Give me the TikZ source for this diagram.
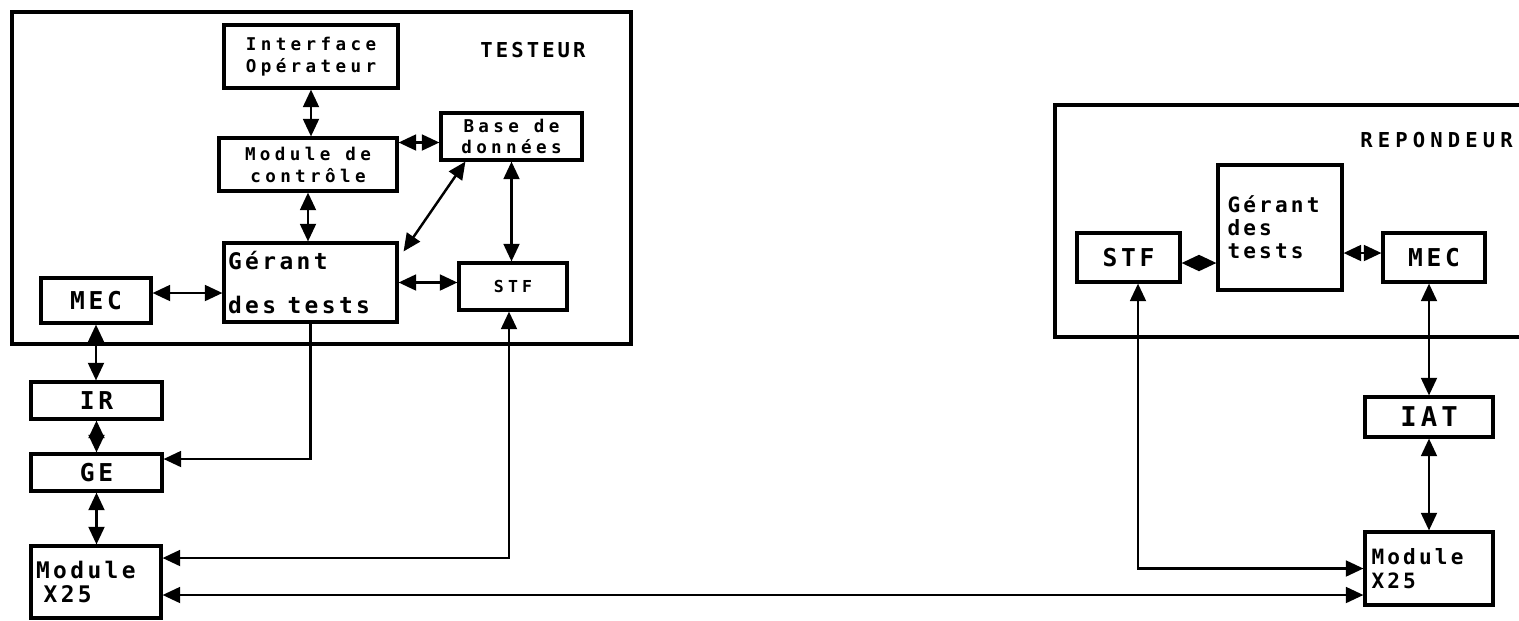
\documentclass[tikz,border=0pt]{standalone}
\usepackage{fontspec}
\newfontfamily\plot[LetterSpace=15]{DejaVu Sans Mono}
\newfontfamily\plotwide[LetterSpace=25]{DejaVu Sans Mono}
\newcommand{\pf}[2]{\plot\bfseries\fontsize{#1}{#2}\selectfont}
\newcommand{\pw}[2]{\plotwide\bfseries\fontsize{#1}{#2}\selectfont}
\usetikzlibrary{arrows.meta,positioning}
\tikzset{
  blk/.style={draw, line width=1.8pt, inner sep=1pt, align=center},
  zone/.style={draw, line width=1.8pt},
  link/.style={{Triangle[length=10pt,width=9pt]}-{Triangle[length=10pt,width=9pt]}, line width=1.4pt},
  feed/.style={-{Triangle[length=10pt,width=9pt]}, line width=1.4pt}
}

\begin{document}
\begin{tikzpicture}[x=0.02cm, y=-0.02cm]
  \useasboundingbox (0,0) rectangle (1519,620);
  % testeur side
  \draw[zone] (12,12) rectangle (631,344);
  \node[font=\pf{11.7}{14}] (tst) at (533,50) {TESTEUR};
  \node[blk, minimum width=3.48cm, minimum height=1.26cm, font=\pw{10}{12.5}] (iface) at (311,56.5) {Interface\\Opérateur};
  \node[blk, minimum width=3.56cm, minimum height=1.06cm, font=\pw{10}{12.5}] (ctrl) at (308,164.5) {Module de\\contrôle};
  \node[blk, minimum width=2.82cm, minimum height=0.94cm, inner sep=0pt, font=\pw{10}{11.5}] (base) at (511.5,136.5) {Base de\\données};
  \node[blk, minimum width=3.46cm, minimum height=1.58cm, align=left, text width=3.3cm, font=\pf{13}{25}] (gerant) at (310.5,282.5) {Gérant\\des\hspace{0.5em}tests};
  \node[blk, minimum width=2.16cm, minimum height=0.94cm, font=\pw{9.4}{11}] (stf) at (513,286.5) {STF};
  \node[blk, minimum width=2.2cm, minimum height=0.9cm, font=\pf{14}{16}] (mec) at (96,300.5) {MEC};
  \node[blk, minimum width=2.62cm, minimum height=0.74cm, font=\pf{14}{16}] (ir) at (96.5,400.5) {IR};
  \node[blk, minimum width=2.62cm, minimum height=0.74cm, font=\pf{14}{16}] (ge) at (96.5,472.5) {GE};
  \node[blk, minimum width=2.6cm, minimum height=1.44cm, align=left, text width=2.4cm, font=\pf{13}{13.5}] (x25L) at (96,582) {Module\\\ X25};
  \draw[link] (iface.south) -- (iface.south |- ctrl.north);
  \draw[link] (ctrl.south) -- (ctrl.south |- gerant.north);
  \draw[link] ([yshift=-0.12cm]base.west) -- ([yshift=-0.12cm]base.west -| ctrl.east);
  \draw[link] ([xshift=0.52cm]base.south west) -- ([xshift=0.1cm,yshift=-0.2cm]gerant.north east);
  \draw[link] (base.south) -- (base.south |- stf.north);
  \draw[link] (gerant.east) -- (gerant.east -| stf.west);
  \draw[link] ([yshift=0.15cm]mec.east) -- ([yshift=0.15cm]mec.east -| gerant.west);
  \draw[link] (mec.south) -- (mec.south |- ir.north);
  \draw[link] (ir.south) -- (ir.south |- ge.north);
  \draw[link] (ge.south) -- (ge.south |- x25L.north);
  \draw[feed] (gerant.south) |- ([yshift=0.27cm]ge.east);
  \draw[link] ([xshift=-0.08cm]stf.south) |- ([yshift=0.48cm]x25L.east);
  % repondeur side
  \draw[zone] (1519,105) -| (1055,337) -- (1519,337);
  \node[anchor=east, font=\pw{11.7}{14}] (rep) at (1519,140) {REPONDEUR};
  \node[blk, minimum width=2.48cm, minimum height=2.5cm, align=left, text width=2.1cm, font=\pf{12}{13}] (rger) at (1280,227.5) {Gérant\\des\\tests};
  \node[blk, minimum width=2.06cm, minimum height=0.98cm, font=\pf{14}{16}] (rstf) at (1128.5,257.5) {STF};
  \node[blk, minimum width=2.04cm, minimum height=0.98cm, font=\pf{14}{16}] (rmec) at (1434,257.5) {MEC};
  \node[blk, minimum width=2.56cm, minimum height=0.8cm, font=\pf{15.5}{17}] (iat) at (1429,417) {IAT};
  \node[blk, minimum width=2.56cm, minimum height=1.46cm, align=left, text width=2.3cm, font=\pf{12}{13.5}] (x25R) at (1429,568.5) {Module\\X25};
  \draw[link] ([yshift=-0.11cm]rstf.east) -- ([yshift=-0.11cm]rstf.east -| rger.west);
  \draw[link] ([yshift=0.09cm]rmec.west) -- ([yshift=0.09cm]rmec.west -| rger.east);
  \draw[link] ([xshift=0.19cm]rstf.south) |- (x25R.west);
  \draw[link] (iat.north) -- (iat.north |- rmec.south);
  \draw[link] (iat.south) -- (iat.south |- x25R.north);
  % liaison X25
  \draw[link] ([yshift=-0.26cm]x25L.east) -- ([yshift=-0.26cm]x25L.east -| x25R.west);
\end{tikzpicture}
\end{document}
